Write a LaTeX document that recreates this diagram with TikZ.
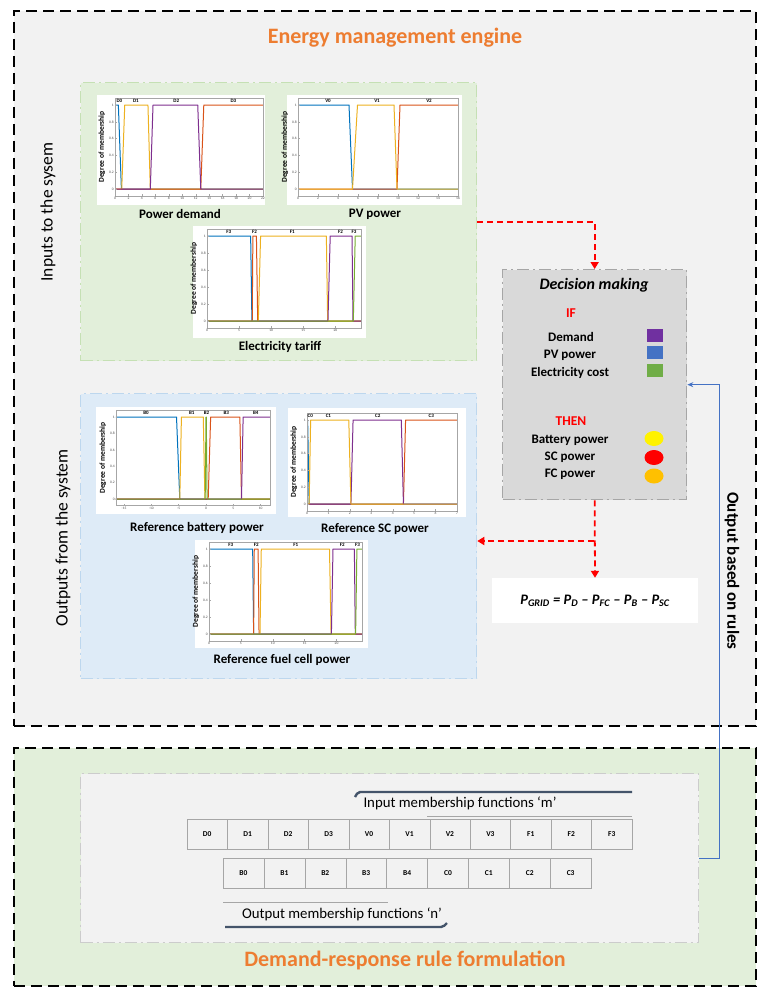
\documentclass[tikz,border=0pt]{standalone}
\usepackage{fontspec}
\setmainfont{Carlito}
\usetikzlibrary{arrows.meta,positioning,shapes.geometric}

\definecolor{mblue}{HTML}{0072BD}
\definecolor{morange}{HTML}{D95319}
\definecolor{myellow}{HTML}{EDB120}
\definecolor{mpurple}{HTML}{7E2F8E}
\definecolor{mgreen}{HTML}{77AC30}
\definecolor{engfill}{HTML}{F2F2F2}
\definecolor{inpanel}{HTML}{E2EFDA}
\definecolor{inborder}{HTML}{C5E0B4}
\definecolor{outpanel}{HTML}{DEEBF7}
\definecolor{outborder}{HTML}{BDD7EE}
\definecolor{decfill}{HTML}{D9D9D9}
\definecolor{decborder}{HTML}{A6A6A6}
\definecolor{titleorange}{HTML}{ED7D31}
\definecolor{ruleblue}{HTML}{4472C4}
\definecolor{lineblue}{HTML}{44546A}
\definecolor{sqpurple}{HTML}{7030A0}
\definecolor{sqgreen}{HTML}{70AD47}
\definecolor{circorange}{HTML}{FFC000}
\definecolor{flowred}{HTML}{FF0000}

\tikzset{
  engbox/.style={draw=black,line width=1.6pt,dash pattern=on 11pt off 6pt,anchor=north west,inner sep=0pt},
  panel/.style={line width=1.3pt,dash pattern=on 12pt off 4pt on 2pt off 4pt,anchor=north west,inner sep=0pt},
  heading/.style={font=\fontsize{22}{26}\selectfont\bfseries,text=titleorange},
  sidelab/.style={rotate=90,font=\fontsize{17.5}{21}\selectfont},
  plotlab/.style={font=\fontsize{13}{15}\selectfont\bfseries},
  mfaxis/.style={draw=black!35,line width=0.4pt},
  mftick/.style={font=\fontsize{3.6}{4}\selectfont,text=black!70,inner sep=1pt},
  mftop/.style={font=\fontsize{5}{6}\selectfont\bfseries,inner sep=0pt},
  mfylab/.style={rotate=90,font=\fontsize{7.5}{9}\selectfont\bfseries},
  mfline/.style={line width=1pt,line join=round},
  dectext/.style={font=\fontsize{13}{15}\selectfont\bfseries},
  ifthen/.style={font=\fontsize{13.5}{16}\selectfont\bfseries,text=red},
  swatch/.style={minimum width=16pt,minimum height=13pt,inner sep=0pt},
  blob/.style={ellipse,minimum width=19pt,minimum height=15pt,inner sep=0pt},
  flow/.style={draw=flowred,line width=1.8pt,dash pattern=on 6pt off 4pt,-{Triangle[length=7pt,width=8pt,fill=flowred]}},
  feedback/.style={ruleblue,line width=1.3pt,-{Stealth[length=6pt,width=5pt]}},
  mfcell/.style={draw=black!35,fill=engfill,minimum height=30pt,inner sep=0pt,font=\fontsize{7.5}{9}\selectfont\bfseries},
  memline/.style={lineblue,line width=2.4pt,rounded corners=2pt},
  sepline/.style={black!35,line width=1pt},
  memtext/.style={font=\fontsize{14.8}{17}\selectfont}
}

% axes box, ticks and y label of one membership plot
\newcommand{\mfframe}[3]{%
  \draw[mfaxis] (#1,-0.08) rectangle (#2,1.08);
  \foreach \t in {0,0.2,0.4,0.6,0.8,1} {
    \draw[mfaxis] (#1,\t) -- ++(1.5pt,0);
    \node[mftick,left] at (#1,\t) {\t};
  }
  \foreach \t in {#3} {
    \draw[mfaxis] (\t,-0.08) -- ++(0,1.5pt);
    \node[mftick,below] at (\t,-0.08) {\t};
  }
  \node[xshift=-13pt,mfylab] at (#1,0.5) {Degree of membership};
}
% trapezoids a/b/c/d/colour, clipped to the axes
\newcommand{\mfcurves}[3]{%
  \begin{scope}
    \clip (#1,-0.08) rectangle (#2,1.08);
    \foreach \ma/\mb/\mc/\md/\mcol in {#3}
      \draw[mfline,\mcol] (#1,0) -- (\ma,0) -- (\mb,1) -- (\mc,1) -- (\md,0) -- (#2,0);
  \end{scope}
}

\begin{document}
\begin{tikzpicture}[x=1pt,y=-1pt]
  \useasboundingbox (0,0) rectangle (759,988);

  % frames
  \node[engbox,fill=engfill,minimum width=742pt,minimum height=715pt] (engine) at (13,10) {};
  \node[engbox,fill=inpanel,minimum width=742pt,minimum height=238pt] (formulation) at (13,747) {};
  \node[heading] (title) at (395,38) {Energy management engine};
  \node[heading] (rtitle) at (405,960) {Demand-response rule formulation};

  \node[panel,draw=inborder,fill=inpanel,minimum width=396pt,minimum height=278pt] (inputs) at (80,82) {};
  \node[panel,draw=outborder,fill=outpanel,minimum width=396pt,minimum height=285pt] (outputs) at (80,393) {};
  \node[sidelab] (inlab) at (48,212) {Inputs to the sysem};
  \node[sidelab] (outlab) at (63,538) {Outputs from the system};

  % power demand
  \fill[white] (97,95) rectangle (265,205);
  \begin{scope}[shift={(115,189)},x=6.727pt,y=84pt]
    \mfcurves{0}{22}{-1/-1/0.5/0.95/mblue,1/1.45/4.9/5.25/myellow,12.75/13.2/23/23/morange,5.25/5.65/12.3/12.75/mpurple}
    \mfframe{0}{22}{0,2,...,22}
    \foreach \p/\t in {0.65/D0,3.1/D1,9.1/D2,17.6/D3} \node[mftop] at (\p,1.045) {\t};
  \end{scope}
  \node[plotlab] (pdlab) at (180,214) {Power demand};

  % pv power
  \fill[white] (287,95) rectangle (462,205);
  \begin{scope}[shift={(298,189)},x=10pt,y=84pt]
    \mfcurves{0}{16}{-1/-1/5.1/5.45/mblue,9.9/10.2/17/17/morange,5.45/5.95/9.6/9.9/myellow}
    \mfframe{0}{16}{0,2,...,16}
    \foreach \p/\t in {3/V0,7.9/V1,13.1/V2} \node[mftop] at (\p,1.045) {\t};
  \end{scope}
  \node[plotlab] (pvlab) at (375,214) {PV power};

  % electricity tariff
  \fill[white] (193,226) rectangle (366,338);
  \begin{scope}[shift={(207,321)},x=6.417pt,y=85pt]
    \mfcurves{0}{24}{-1/-1/6.8/7/mblue,7.05/7.15/7.7/7.9/morange,8/8.35/18.6/18.8/myellow,18.85/19.2/22.6/22.75/mpurple,22.8/23.1/25/25/mgreen}
    \mfframe{0}{24}{0,5,10,15,20}
    \foreach \p/\t in {3.4/F3,7.4/F2,13.3/F1,20.8/F2,22.9/F3} \node[mftop] at (\p,1.045) {\t};
  \end{scope}
  \node[plotlab] (eclab) at (280,347) {Electricity tariff};

  % reference battery power
  \fill[white] (96,407) rectangle (276,514);
  \begin{scope}[shift={(206,499)},x=5.461pt,y=82pt]
    \mfcurves{-16.5}{11.7}{-18/-18/-5.4/-4.8/mblue,-4.8/-4.5/-0.5/-0.2/myellow,0.4/0.85/6.2/6.5/morange,6.5/6.8/13/13/mpurple,-0.15/0/0.05/0.2/mgreen}
    \mfframe{-16.5}{11.7}{-15,-10,-5,0,5,10}
    \foreach \p/\t in {-11/B0,-2.6/B1,0.1/B2,3.7/B3,9.1/B4} \node[mftop] at (\p,1.045) {\t};
  \end{scope}
  \node[plotlab] (batlab) at (197,528) {Reference battery power};

  % reference sc power
  \fill[white] (288,408) rectangle (466,517);
  \begin{scope}[shift={(307,504)},x=21.43pt,y=84pt]
    \mfcurves{0}{7}{-1/-1/0.03/0.1/mblue,4.5/4.6/8/8/morange,2.05/2.15/4.4/4.5/mpurple,0.1/0.17/1.95/2.05/myellow}
    \mfframe{0}{7}{0,1,...,7}
    \foreach \p/\t in {0.15/C0,1/C1,3.3/C2,5.8/C3} \node[mftop] at (\p,1.045) {\t};
  \end{scope}
  \node[plotlab] (sclab) at (375,529) {Reference SC power};

  % reference fuel cell power
  \fill[white] (195,540) rectangle (368,648);
  \begin{scope}[shift={(209,634)},x=6.375pt,y=85pt]
    \mfcurves{0}{24}{-1/-1/6.85/7/mblue,7/7.1/7.7/7.85/morange,8/8.2/18.9/19.15/myellow,19.2/19.45/22.8/22.95/mpurple,23/23.2/25/25/mgreen}
    \mfframe{0}{24}{0,5,10,15,20}
    \foreach \p/\t in {3.4/F3,7.4/F2,13.6/F1,20.9/F2,23.3/F3} \node[mftop] at (\p,1.045) {\t};
  \end{scope}
  \node[plotlab] (fclab) at (282,660) {Reference fuel cell power};

  % decision making
  \node[panel,draw=decborder,fill=decfill,minimum width=184pt,minimum height=230pt] (decision) at (502,269) {};
  \node[font=\fontsize{16}{19}\selectfont\bfseries\itshape] (dtitle) at (594,285) {Decision making};
  \node[ifthen] (dif) at (571,313) {IF};
  \node[dectext] (ddem) at (571,337) {Demand};
  \node[dectext] (dpv) at (570,355) {PV power};
  \node[dectext] (dcost) at (570,373) {Electricity cost};
  \node[swatch,fill=sqpurple] (sqdem) at (655,335.5) {};
  \node[swatch,fill=ruleblue] (sqpv) at (655,352) {};
  \node[swatch,fill=sqgreen] (sqcost) at (655,370) {};
  \node[ifthen] (dthen) at (571,421) {THEN};
  \node[dectext] (dbat) at (570,440) {Battery power};
  \node[dectext] (dsc) at (570,457) {SC power};
  \node[dectext] (dfc) at (570,474) {FC power};
  \node[blob,fill=yellow] (cbat) at (654,438.5) {};
  \node[blob,fill=red] (csc) at (654,457.5) {};
  \node[blob,fill=circorange] (cfc) at (654,476) {};

  \node[fill=white,minimum width=206pt,minimum height=45pt,inner sep=0pt,
        font=\fontsize{14.5}{17}\selectfont\bfseries\itshape] (grid) at (595,600.5)
    {P\textsubscript{GRID} = P\textsubscript{D} – P\textsubscript{FC} – P\textsubscript{B} – P\textsubscript{SC}};

  % rule formulation
  \node[panel,draw=black!20,fill=engfill,minimum width=618pt,minimum height=169pt] (rules) at (80,773) {};
  \foreach \t [count=\i] in {D0,D1,D2,D3,V0,V1,V2,V3,F1,F2,F3}
    \node[mfcell,minimum width=40.45pt] (in\i) at ({187+40.45*(\i-0.5)},834) {\t};
  \foreach \t [count=\i] in {B0,B1,B2,B3,B4,C0,C1,C2,C3}
    \node[mfcell,minimum width=40.9pt] (out\i) at ({223+40.9*(\i-0.5)},873.5) {\t};
  \draw[memline] (355,797) -- (358,792) -- (632,792);
  \node[memtext] (inmf) at (460,803) {Input membership functions ‘m’};
  \draw[sepline] (427,816) -- (632,816);
  \draw[sepline] (223,902) -- (388,902);
  \node[memtext] (outmf) at (342,914) {Output membership functions ‘n’};
  \draw[memline] (225,927) -- (443,927) -- (447,923);

  % connectors
  \coordinate (branch) at (594,541);
  \coordinate (bend) at (decision.north |- inputs.east);
  \draw[flow] (inputs.east) -- (bend) -- (decision.north);
  \draw[flow] (decision.south) -- (grid.north);
  \draw[flow] (branch) -- (branch -| outputs.east);
  \draw[feedback] (rules.east) -- ++(20,0) |- (decision.east);
  \node[rotate=-90,font=\fontsize{17}{20}\selectfont\bfseries] (fblab) at (732,571) {Output based on rules};
\end{tikzpicture}
\end{document}
